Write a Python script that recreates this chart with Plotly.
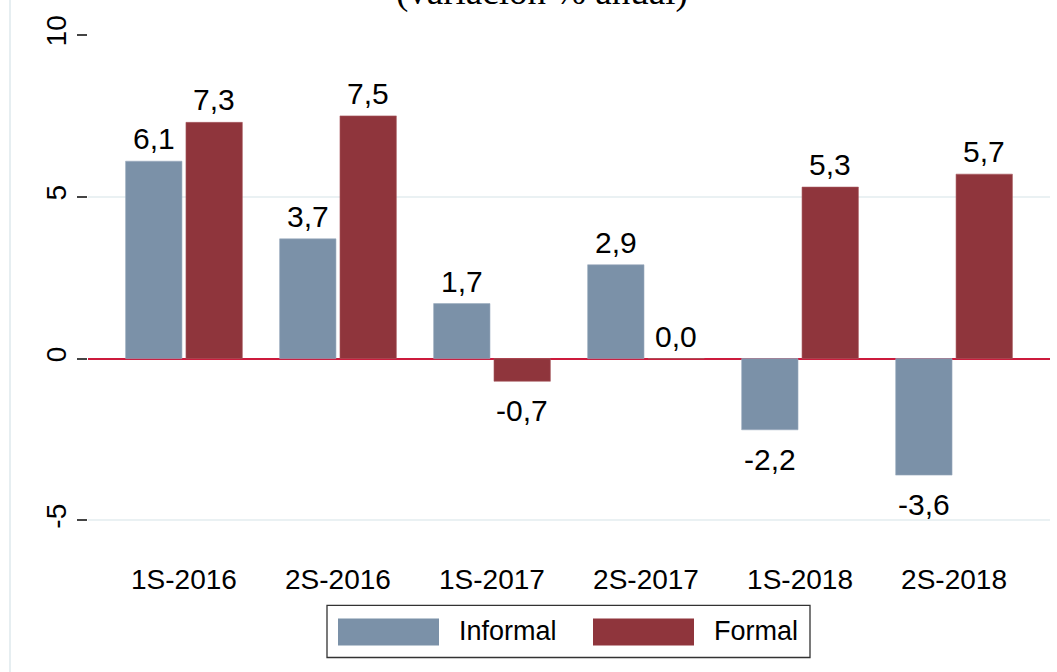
import plotly.graph_objects as go

categories = ["1S-2016", "2S-2016", "1S-2017", "2S-2017", "1S-2018", "2S-2018"]
series_names = ["Informal", "Formal"]
informal = [6.1, 3.7, 1.7, 2.9, -2.2, -3.6]
formal = [7.3, 7.5, -0.7, 0.0, 5.3, 5.7]
y_ticks = [-5, 0, 5, 10]
title_text = "(variación % anual)"

COL_INF = "#7b91a8"
COL_FOR = "#8f353c"

# page body margin is removed by post_script, so figure sits at (0, 0)
W, H = 1057, 672
ML, MR, MT, MB = 88, 7, 35, 116.4
PW = W - ML - MR
PH = H - MT - MB


def px2x(px):
    return (px - ML) / PW


def py2y(py):
    return (H - MB - py) / PH


xpos = list(range(len(categories)))
BW = 0.366
OFF_I = -0.379
OFF_F = 0.013

fig = go.Figure()
fig.add_trace(go.Bar(x=xpos, y=informal, name=series_names[0], width=BW, offset=OFF_I,
                     marker=dict(color=COL_INF, line=dict(color="#9aabbd", width=0.6))))
fig.add_trace(go.Bar(x=xpos, y=formal, name=series_names[1], width=BW, offset=OFF_F,
                     marker=dict(color=COL_FOR, line=dict(color="#a85a60", width=0.6))))

annotations = []
lab_font = dict(family="Liberation Sans, Arial", size=30, color="#000000")


def fmt(v):
    return f"{v:.1f}".replace(".", ",")


for vals, off in ((informal, OFF_I), (formal, OFF_F)):
    for i, v in enumerate(vals):
        pos = v >= 0
        annotations.append(dict(
            x=i + off + BW / 2, y=v, xref="x", yref="y", text=fmt(v),
            showarrow=False, font=lab_font,
            yanchor="bottom" if pos else "top",
            yshift=4 if pos else -11,
        ))

# title (partially cut at top, as in the source image)
annotations.append(dict(
    x=px2x(542), y=py2y(15), xref="paper", yref="paper", text=title_text,
    showarrow=False, yanchor="bottom", xanchor="center",
    font=dict(family="Liberation Serif, Times New Roman", size=37, color="#000000"),
))

# manual legend
shapes = []
leg_font = dict(family="Liberation Sans, Arial", size=27, color="#000000")
shapes.append(dict(type="rect", xref="paper", yref="paper",
                   x0=px2x(327), x1=px2x(810), y0=py2y(657), y1=py2y(605),
                   line=dict(color="#333333", width=1.3), fillcolor="white"))
for name, col, sx, tx in ((series_names[0], COL_INF, 338, 457), (series_names[1], COL_FOR, 593, 712)):
    shapes.append(dict(type="rect", xref="paper", yref="paper",
                       x0=px2x(sx), x1=px2x(sx + 101), y0=py2y(645), y1=py2y(618),
                       line=dict(width=0), fillcolor=col))
    annotations.append(dict(x=px2x(tx), y=py2y(631), xref="paper", yref="paper",
                            text=name, showarrow=False, xanchor="left", yanchor="middle",
                            font=leg_font))

# outer light border on left
shapes.append(dict(type="line", xref="paper", yref="paper",
                   x0=px2x(10), x1=px2x(10), y0=py2y(672), y1=py2y(0),
                   line=dict(color="#e6eef1", width=2)))

fig.update_layout(
    width=W, height=H,
    margin=dict(l=ML, r=MR, t=MT, b=MB, pad=0),
    paper_bgcolor="white", plot_bgcolor="white",
    showlegend=False,
    annotations=annotations,
    shapes=shapes,
    font=dict(family="Liberation Sans, Arial", color="#000000"),
)
fig.update_xaxes(
    range=[-0.623, 5.623], tickvals=xpos, ticktext=categories,
    showgrid=False, zeroline=False, showline=False, ticks="",
    ticklabelstandoff=4,
    tickfont=dict(size=28, family="Liberation Sans, Arial", color="#000000"),
)
fig.update_yaxes(
    range=[-6.1, 10], tickvals=y_ticks, ticktext=[str(t) for t in y_ticks],
    tickangle=-90, ticks="outside", ticklen=10, tickwidth=2, tickcolor="#444444",
    showgrid=True, gridcolor="#eaf1f3", gridwidth=2,
    zeroline=True, zerolinecolor="#cc1a3c", zerolinewidth=2,
    showline=False,
    tickfont=dict(size=28, family="Liberation Sans, Arial", color="#000000"),
)

fig.write_html(
    "out.html",
    config={"displayModeBar": False},
    post_script="document.body.style.margin='0';document.documentElement.style.overflow='hidden';",
)
